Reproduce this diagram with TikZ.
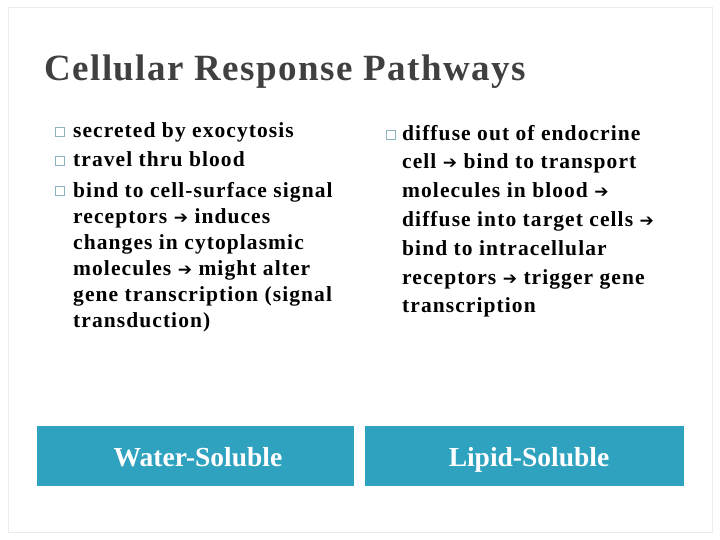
\documentclass[tikz,border=0pt]{standalone}
\usepackage{fontspec}
\setmainfont{Liberation Serif}
\newfontfamily\arrowfont{DejaVu Sans}
\definecolor{bar}{HTML}{2EA2BF}
\definecolor{bul}{HTML}{8FB3BF}
\newcommand{\ar}{{\arrowfont\fontsize{17}{20}\selectfont ➔}}
\begin{document}
\begin{tikzpicture}[x=1pt,y=-1pt,
  tx/.style={anchor=base west,inner sep=0pt,font=\fontsize{21.5}{24}\selectfont\bfseries\addfontfeature{LetterSpace=5}},
  bx/.style={fill=bar,draw=none,inner sep=0pt},
  lb/.style={anchor=base,inner sep=0pt,text=white,font=\fontsize{27.5}{30}\selectfont\bfseries},
  bl/.style={draw=bul,line width=0.8pt,minimum size=9pt,inner sep=0pt}]
\useasboundingbox (0,0) rectangle (720,540);
\fill[white] (0,0) rectangle (720,540);
\draw[black!8,line width=1pt] (8,8) rectangle (712,532);
\node[anchor=base west,inner sep=0pt,font=\fontsize{37}{40}\selectfont\bfseries\addfontfeature{LetterSpace=4},text=black!75] (title) at (44,81) {Cellular Response Pathways};
% left
\node[bl] (b1) at (60,132) {};
\node[tx] (l1) at (73,138) {secreted by exocytosis};
\node[bl] (b2) at (60,161) {};
\node[tx] (l2) at (73,167) {travel thru blood};
\node[bl] (b3) at (60,191) {};
\node[tx] (l3) at (73,197) {bind to cell-surface signal};
\node[tx] (l4) at (73,223) {receptors \ar\ induces};
\node[tx] (l5) at (73,249) {changes in cytoplasmic};
\node[tx] (l6) at (73,275) {molecules \ar\ might alter};
\node[tx] (l7) at (73,301) {gene transcription (signal};
\node[tx] (l8) at (73,327) {transduction)};
% right
\node[bl] (b4) at (391,135) {};
\node[tx] (r1) at (402,141) {diffuse out of endocrine};
\node[tx] (r2) at (402,169) {cell \ar\ bind to transport};
\node[tx] (r3) at (402,197) {molecules in blood \ar};
\node[tx] (r4) at (402,226) {diffuse into target cells \ar};
\node[tx] (r5) at (402,255) {bind to intracellular};
\node[tx] (r6) at (402,284) {receptors \ar\ trigger gene};
\node[tx] (r7) at (402,312) {transcription};
% boxes
\node[bx,minimum width=317pt,minimum height=60pt,anchor=north west] (w) at (37,426) {};
\node[lb] (wt) at (198,466) {Water-Soluble};
\node[bx,minimum width=319pt,minimum height=60pt,anchor=north west] (lp) at (365,426) {};
\node[lb] (lt) at (529,466) {Lipid-Soluble};
\end{tikzpicture}
\end{document}
